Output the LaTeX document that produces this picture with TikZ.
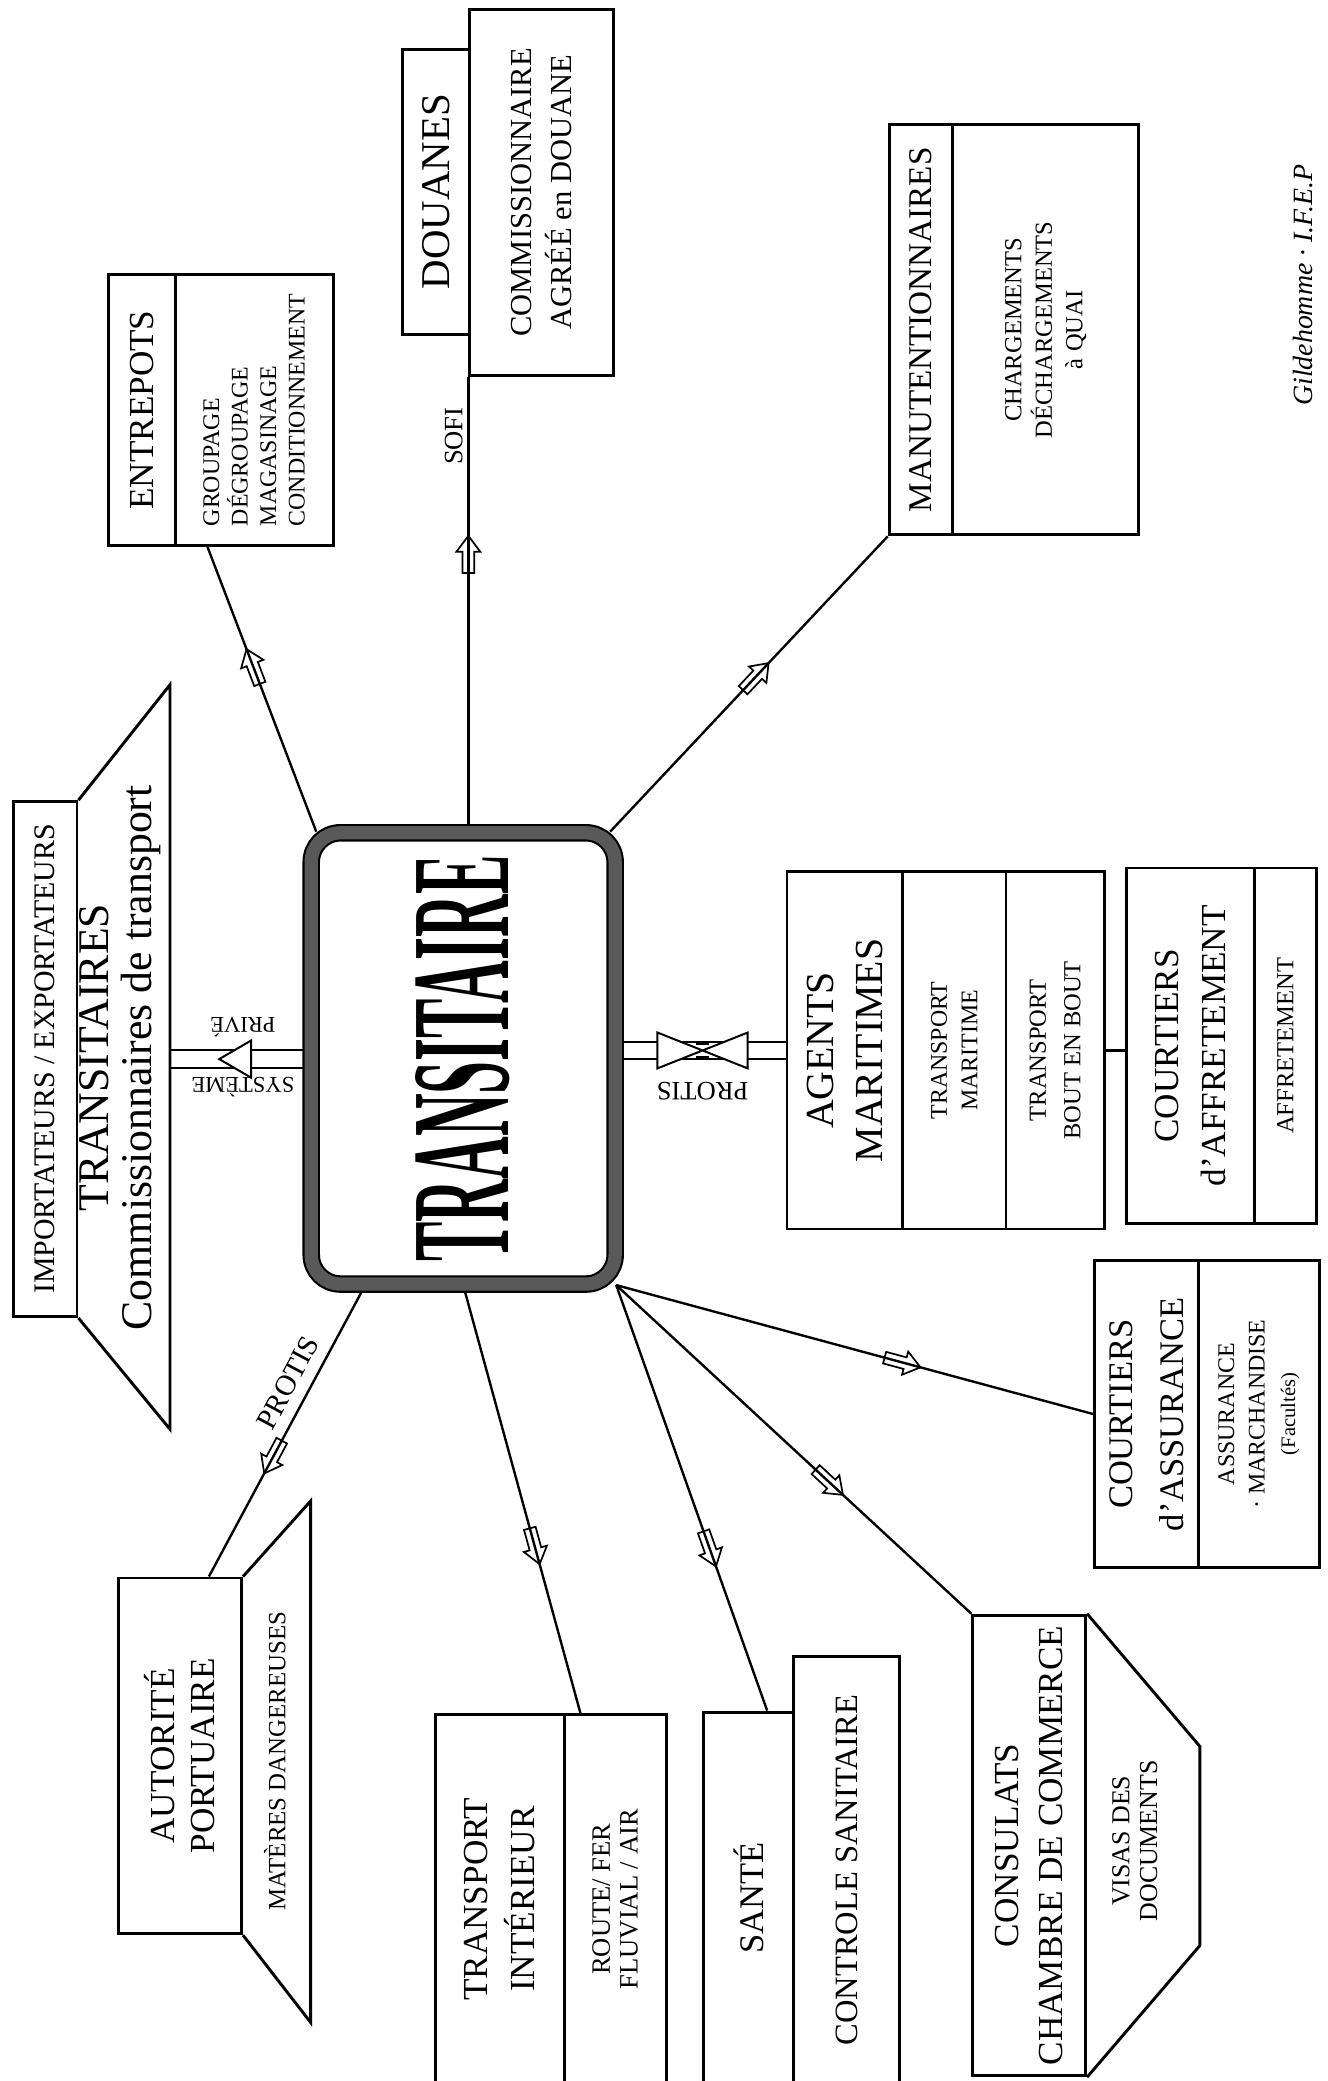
\documentclass[tikz,border=0pt]{standalone}
\usepackage{fontspec}
\setmainfont{Liberation Serif}
\usepackage{graphicx}
\usetikzlibrary{calc,backgrounds,decorations.markings}

\begin{document}
\begin{tikzpicture}[x=1pt, y=-1pt,
    cell/.style={draw, line width=2.2pt, rotate=90, inner sep=1pt, align=center},
    tag/.style={rotate=90, inner sep=0pt, align=center},
    fs/.style 2 args={font=\fontsize{#1}{#2}\selectfont},
    link/.style={line width=1.8pt},
    side/.style={line width=2.2pt, line join=miter},
    pipe/.style={line width=1.5pt, double=white, double distance=12pt},
    valve/.style={draw, fill=white, line width=1.5pt, line join=miter},
    flow/.style={link, postaction={decorate}, decoration={markings, mark=at position #1 with {\draw[line width=1.3pt, line join=miter] (-14,-4.5) -- (2,-4.5) -- (2,-9) -- (14,0) -- (2,9) -- (2,4.5) -- (-14,4.5) -- cycle;}}}
]
    \useasboundingbox (0,0) rectangle (1000,1568);
    \clip (0,0) rectangle (1000,1568);

    \node[draw, line width=1.6pt, double=black!65, double distance=10pt, rounded corners=22pt, fill=white, minimum width=229pt, minimum height=340pt, inner sep=0pt] (ctr) at (349,797.5) {\rotatebox{90}{\resizebox{306pt}{70pt}{\bfseries TRANSITAIRE}}};

    \node[cell, fs={26.5}{30}, minimum width=204pt, minimum height=50pt] (enttitle) at (107,309) {ENTREPOTS};
    \node[cell, fs={18}{21.5}, align=left, minimum width=204pt, minimum height=119pt] (entsub) at (191.5,309) {GROUPAGE\\DÉGROUPAGE\\MAGASINAGE\\CONDITIONNEMENT};

    \node[cell, fs={30.8}{36}, minimum width=215pt, minimum height=51pt] (douanes) at (328.5,144.5) {DOUANES};
    \node[cell, fs={23}{30}, minimum width=276pt, minimum height=108pt] (comm) at (408,145) {COMMISSIONNAIRE\\AGRÉÉ en DOUANE};

    \node[cell, fs={25}{30}, minimum width=309pt, minimum height=48pt] (mantitle) at (694,248.5) {MANUTENTIONNAIRES};
    \node[cell, fs={18.5}{23}, minimum width=309pt, minimum height=140pt] (mansub) at (788,248.5) {CHARGEMENTS\\DÉCHARGEMENTS\\à QUAI};

    \node[cell, fs={22.5}{27}, minimum width=388pt, minimum height=48pt] (imp) at (34,798) {IMPORTATEURS / EXPORTATEURS};
    \draw[side] (imp.south east) -- ++(69,-87) -- ++(0,561) -- (imp.south west);
    \coordinate (impR) at ($(imp.south)+(69,0)$);
    \node[tag, fs={33}{33}] (impnote) at (90.5,797) {TRANSITAIRES\\Commissionnaires de transport};

    \node[cell, fs={30}{37}, minimum width=269pt, minimum height=87pt] (agtitle) at (636.5,791.5) {AGENTS\\MARITIMES};
    \node[cell, fs={18}{23}, minimum width=269pt, minimum height=78pt] (agsub1) at (719,791.5) {TRANSPORT\\MARITIME};
    \node[cell, fs={18.5}{26}, minimum width=269pt, minimum height=74pt] (agsub2) at (795,791.5) {TRANSPORT\\BOUT EN BOUT};

    \node[cell, fs={26.5}{36}, minimum width=268pt, minimum height=96pt] (cafftitle) at (897,788) {COURTIERS\\d'AFFRETEMENT};
    \node[cell, fs={18.5}{22}, minimum width=268pt, minimum height=47pt] (caffsub) at (968.5,788) {AFFRETEMENT};

    \node[cell, fs={26}{38}, minimum width=231pt, minimum height=78pt] (casstitle) at (864,1065.5) {COURTIERS\\d'ASSURANCE};
    \node[cell, fs={18}{23}, minimum width=231pt, minimum height=91pt] (casssub) at (948.5,1065.5) {ASSURANCE\\· MARCHANDISE\\{\fontsize{15.5}{23}\selectfont (Facultés)}};

    \node[cell, fs={26.5}{30}, minimum width=268pt, minimum height=93pt] (auttitle) at (135.5,1323) {AUTORITÉ\\PORTUAIRE};
    \draw[side] (auttitle.south east) -- ++(51,-57) -- ++(0,393) -- (auttitle.south west);
    \node[tag, fs={18.7}{22}] (autnote) at (207,1327) {MATÈRES DANGEREUSES};

    \node[cell, fs={26.5}{35}, minimum width=278pt, minimum height=97pt] (trtitle) at (376.5,1431) {TRANSPORT\\INTÉRIEUR};
    \node[cell, fs={20}{21}, minimum width=278pt, minimum height=77pt] (trsub) at (463.5,1431) {ROUTE/ FER\\FLUVIAL / AIR};

    \node[cell, fs={26}{30}, minimum width=280pt, minimum height=68pt] (sante) at (564,1430) {SANTÉ};
    \node[cell, fs={24.5}{30}, minimum width=322pt, minimum height=80pt] (ctrl) at (638,1409) {CONTROLE SANITAIRE};

    \node[cell, fs={26.5}{33}, minimum width=347pt, minimum height=85pt] (cons) at (775.5,1390.5) {CONSULATS\\CHAMBRE DE COMMERCE};
    \draw[side] (cons.south east) -- ++(85,100) -- ++(0,150) -- (cons.south west);
    \node[tag, fs={19.5}{21}] (consnote) at (855,1387) {VISAS DES\\DOCUMENTS};

    \node[tag, fs={21}{24}] (sign) at (982,215) {\itshape Gildehomme · I.F.E.P};

    \begin{scope}[on background layer]
        \draw[flow=0.58] ($(ctr.north west)!0.02!(ctr.north east)$) -- ($(entsub.north west)!0.21!(entsub.south west)$);
        \draw[flow=0.61] (ctr.north -| comm.north west) -- node[sloped, pos=0.87, above, fs={20}{24}] (sofi) {SOFI} (comm.north west);
        \draw[flow=0.525] ($(ctr.north west)!0.98!(ctr.north east)$) -- (mantitle.north west);
        \draw[flow=0.59] ($(ctr.south west)!0.18!(ctr.south east)$) -- node[sloped, pos=0.37, above=5pt, fs={22}{26}] (protisa) {PROTIS} ($(auttitle.north east)!0.73!(auttitle.south east)$);
        \draw[flow=0.61] (ctr.south) -- ($(trsub.north east)!0.17!(trsub.south east)$);
        \draw[flow=0.62] (ctr.south east) -- ($(sante.north east)!0.7!(sante.south east)$);
        \draw[flow=0.6] (ctr.south east) -- (cons.north east);
        \draw[flow=0.6] (ctr.south east) -- (casstitle.north);
        \draw[link] (agsub2.south) -- (agsub2.south -| cafftitle.north);
        \draw[pipe] (impR) -- coordinate[pos=0.465] (valveL)
            node[pos=0.52, yshift=24pt, rotate=180, fs={17}{20}] (prive) {PRIVÉ}
            node[pos=0.52, yshift=-21pt, rotate=180, fs={17}{20}] (systeme) {SYSTÈME} (impR -| ctr.west);
        \draw[pipe] (ctr.east |- agtitle.north) -- coordinate[pos=0.51] (valveR)
            node[pos=0.51, yshift=-31pt, rotate=180, fs={20}{24}] (protisb) {PROTIS} (agtitle.north);
    \end{scope}

    \draw[valve] ($(valveL)+(-12,0)$) -- ++(24,-14) -- ++(0,28) -- cycle;
    \draw[valve] ($(valveR)+(-34,-13.5)$) -- ++(68,27) -- ++(0,-27) -- ++(-68,27) -- cycle;
    \draw[line width=1.2pt] ($(valveR)+(-5,-5)$) -- ++(10,0) ($(valveR)+(-5,5)$) -- ++(10,0);
\end{tikzpicture}
\end{document}
